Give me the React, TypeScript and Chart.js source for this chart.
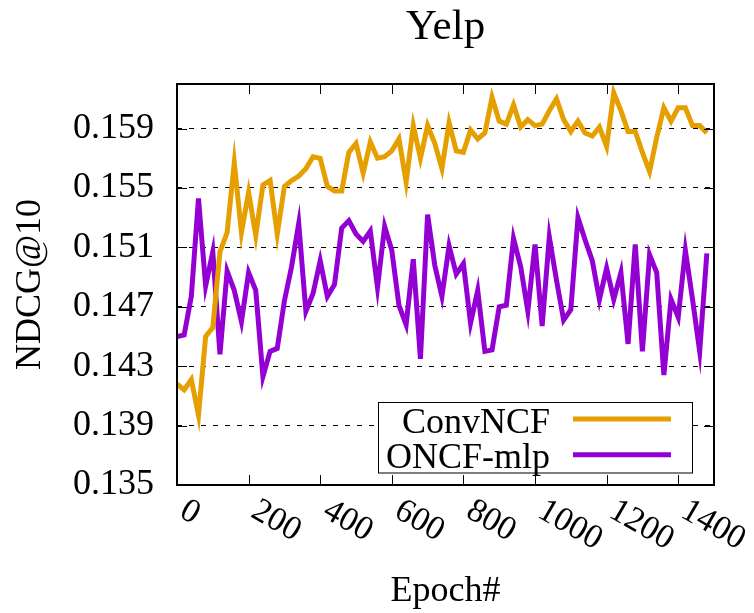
import React, { useEffect, useRef } from "react";
import { Chart, registerables } from "chart.js";

Chart.register(...registerables);

const chartTitle = "Yelp";
const xAxisTitle = "Epoch#";
const yAxisTitle = "NDCG@10";
const seriesNames = ["ConvNCF", "ONCF-mlp"];
const seriesColors = ["#E69F00", "#9400D3"];

const xTickValues = [0, 200, 400, 600, 800, 1000, 1200, 1400];
const yTickValues = [0.135, 0.139, 0.143, 0.147, 0.151, 0.155, 0.159];
const xMin = 0;
const xMax = 1500;
const yMin = 0.135;
const yMax = 0.162;

const epochs = [
  0, 20, 40, 60, 80, 100, 120, 140, 160, 180, 200, 220, 240, 260, 280, 300, 320, 340, 360, 380,
  400, 420, 440, 460, 480, 500, 520, 540, 560, 580, 600, 620, 640, 660, 680, 700, 720, 740, 760, 780,
  800, 820, 840, 860, 880, 900, 920, 940, 960, 980, 1000, 1020, 1040, 1060, 1080, 1100, 1120, 1140, 1160, 1180,
  1200, 1220, 1240, 1260, 1280, 1300, 1320, 1340, 1360, 1380, 1400, 1420, 1440, 1460, 1480,
];

const convNCF = [
  0.1418, 0.1414, 0.1421, 0.1397, 0.1450, 0.1456, 0.1507, 0.1520, 0.1567, 0.1520,
  0.1547, 0.1518, 0.1552, 0.1555, 0.1519, 0.1551, 0.1555, 0.1558, 0.1563, 0.1571,
  0.1570, 0.1551, 0.1548, 0.1548, 0.1574, 0.1580, 0.1560, 0.1581, 0.1570, 0.1571,
  0.1575, 0.1583, 0.1554, 0.1592, 0.1570, 0.1592, 0.1580, 0.1563, 0.1594, 0.1575,
  0.1574, 0.1589, 0.1583, 0.1587, 0.1611, 0.1595, 0.1593, 0.1606, 0.1591, 0.1596,
  0.1592, 0.1593, 0.1602, 0.1610, 0.1596, 0.1588, 0.1595, 0.1587, 0.1585, 0.1591,
  0.1578, 0.1614, 0.1602, 0.1588, 0.1588, 0.1574, 0.1561, 0.1584, 0.1604, 0.1595,
  0.1604, 0.1604, 0.1592, 0.1592, 0.1587,
];

const oncfMlp = [
  0.1450, 0.1451, 0.1477, 0.1543, 0.1484, 0.1507, 0.1438, 0.1494, 0.1481, 0.1460,
  0.1493, 0.1481, 0.1423, 0.1440, 0.1442, 0.1474, 0.1497, 0.1526, 0.1467, 0.1479,
  0.1501, 0.1477, 0.1485, 0.1523, 0.1528, 0.1519, 0.1514, 0.1521, 0.1483, 0.1524,
  0.1508, 0.1471, 0.1458, 0.1502, 0.1435, 0.1532, 0.1498, 0.1477, 0.1511, 0.1492,
  0.1499, 0.1459, 0.1481, 0.1440, 0.1441, 0.1470, 0.1471, 0.1516, 0.1497, 0.1467,
  0.1512, 0.1457, 0.1517, 0.1488, 0.1461, 0.1468, 0.1530, 0.1515, 0.1501, 0.1475,
  0.1496, 0.1475, 0.1493, 0.1445, 0.1512, 0.1440, 0.1505, 0.1493, 0.1424, 0.1475,
  0.1463, 0.1508, 0.1475, 0.1440, 0.1506,
];

const FONT_FAMILY = "'Liberation Serif', 'Times New Roman', serif";
const FONT_SIZE = 36;
const TITLE_SIZE = 43;
const XTICK_SIZE = 34;

const decorPlugin = {
  id: "gnuplotDecor",
  afterDraw(chart: any) {
    const ctx = chart.ctx as CanvasRenderingContext2D;
    const area = chart.chartArea;
    const xs = chart.scales.x;
    const ys = chart.scales.y;
    ctx.save();

    // tick marks (inward, all sides)
    ctx.strokeStyle = "#000";
    ctx.lineWidth = 1;
    ctx.setLineDash([]);
    const tl = 10;
    ctx.beginPath();
    for (const v of xTickValues) {
      const px = Math.round(xs.getPixelForValue(v)) + 0.5;
      ctx.moveTo(px, area.bottom);
      ctx.lineTo(px, area.bottom - tl);
      ctx.moveTo(px, area.top);
      ctx.lineTo(px, area.top + tl);
    }
    for (const v of yTickValues) {
      const py = Math.round(ys.getPixelForValue(v)) + 0.5;
      ctx.moveTo(area.left, py);
      ctx.lineTo(area.left + tl, py);
      ctx.moveTo(area.right, py);
      ctx.lineTo(area.right - tl, py);
    }
    ctx.stroke();

    // border
    ctx.lineWidth = 2;
    ctx.strokeRect(area.left, area.top, area.right - area.left, area.bottom - area.top);

    // x tick labels rotated clockwise
    ctx.fillStyle = "#000";
    ctx.font = `${XTICK_SIZE}px ${FONT_FAMILY}`;
    ctx.textAlign = "left";
    ctx.textBaseline = "alphabetic";
    for (const v of xTickValues) {
      const px = xs.getPixelForValue(v);
      ctx.save();
      ctx.translate(px + 1, area.bottom + 31);
      ctx.rotate(Math.PI / 6);
      ctx.fillText(String(v), 0, 0);
      ctx.restore();
    }

    // title
    ctx.font = `${TITLE_SIZE}px ${FONT_FAMILY}`;
    ctx.textAlign = "center";
    ctx.fillText(chartTitle, (area.left + area.right) / 2, 39);

    // legend
    ctx.font = `${FONT_SIZE}px ${FONT_FAMILY}`;
    const bx = area.right - 336;
    const by = area.bottom - 83.5;
    const bw = 314;
    const bh = 70.5;
    ctx.fillStyle = "#fff";
    ctx.fillRect(bx, by, bw, bh);
    ctx.strokeStyle = "#000";
    ctx.lineWidth = 1;
    ctx.strokeRect(Math.round(bx) + 0.5, Math.round(by) + 0.5, bw, bh);
    const rowH = 35.7;
    chart.data.datasets.forEach((ds: any, i: number) => {
      ctx.fillStyle = "#000";
      ctx.textAlign = "right";
      ctx.textBaseline = "alphabetic";
      ctx.fillText(ds.label, bx + 172, by + 31 + i * rowH);
      ctx.strokeStyle = ds.borderColor;
      ctx.lineWidth = 5;
      ctx.beginPath();
      ctx.moveTo(bx + 195, by + 17.6 + i * rowH);
      ctx.lineTo(bx + 293, by + 17.6 + i * rowH);
      ctx.stroke();
    });

    ctx.restore();
  },
};

export default function App() {
  const canvasRef = useRef<HTMLCanvasElement | null>(null);

  useEffect(() => {
    const canvas = canvasRef.current;
    if (!canvas) return;
    const font = { family: FONT_FAMILY, size: FONT_SIZE, weight: "normal" as const };
    const chart = new Chart(canvas, {
      type: "line",
      data: {
        datasets: [
          {
            label: seriesNames[0],
            data: epochs.map((e, i) => ({ x: e, y: convNCF[i] })),
            borderColor: seriesColors[0],
            backgroundColor: seriesColors[0],
            borderWidth: 5,
            pointRadius: 0,
            tension: 0,
            fill: false,
          },
          {
            label: seriesNames[1],
            data: epochs.map((e, i) => ({ x: e, y: oncfMlp[i] })),
            borderColor: seriesColors[1],
            backgroundColor: seriesColors[1],
            borderWidth: 5,
            pointRadius: 0,
            tension: 0,
            fill: false,
          },
        ],
      },
      options: {
        responsive: false,
        animation: false,
        devicePixelRatio: 1,
        layout: { padding: { top: 84, right: 40, left: 0, bottom: 0 } },
        plugins: {
          legend: { display: false },
          title: { display: false },
          tooltip: { enabled: false },
        },
        scales: {
          x: {
            type: "linear",
            min: xMin,
            max: xMax,
            afterBuildTicks: (s: any) => {
              s.ticks = xTickValues.map((v) => ({ value: v }));
            },
            afterFit: (s: any) => {
              s.height = 128;
            },
            ticks: { display: false },
            grid: { display: false },
            border: { display: false },
            title: {
              display: true,
              text: xAxisTitle,
              font,
              color: "#000",
              padding: { top: 0, bottom: 0 },
            },
          },
          y: {
            type: "linear",
            min: yMin,
            max: yMax,
            afterBuildTicks: (s: any) => {
              s.ticks = yTickValues.map((v) => ({ value: v }));
            },
            afterFit: (s: any) => {
              s.width = 177;
            },
            ticks: {
              font,
              color: "#000",
              padding: 23,
              callback: (v: any) => Number(v).toFixed(3),
            },
            grid: { color: "#000", lineWidth: 1, drawTicks: false },
            border: { display: false, dash: [5, 7] },
            title: {
              display: true,
              text: yAxisTitle,
              font,
              color: "#000",
              padding: { top: 9, bottom: 0 },
            },
          },
        },
      },
      plugins: [decorPlugin],
    });
    return () => chart.destroy();
  }, []);

  return (
    <div style={{ position: "absolute", left: 0, top: 0, width: 754, height: 613, background: "#fff" }}>
      <canvas ref={canvasRef} width={754} height={613} style={{ display: "block" }} />
    </div>
  );
}
